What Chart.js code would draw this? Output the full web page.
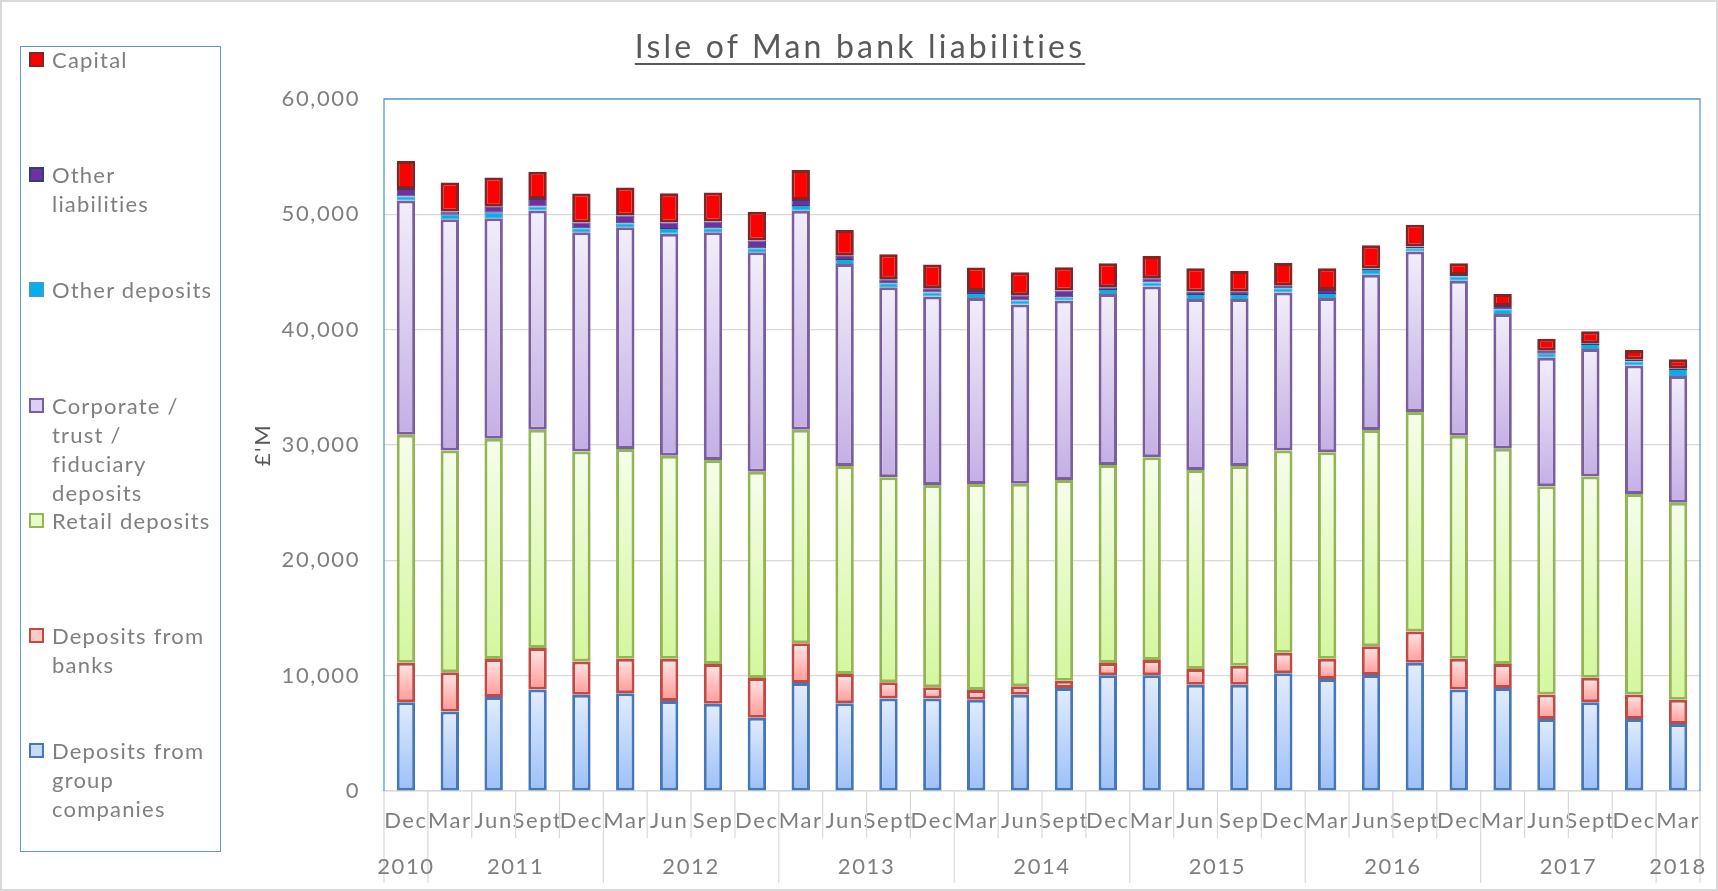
<!DOCTYPE html>
<html>
<head>
<meta charset="utf-8">
<title>Isle of Man bank liabilities</title>
<script src="https://cdn.jsdelivr.net/npm/chart.js@4.4.1/dist/chart.umd.min.js"></script>
<style>
  html, body { margin: 0; padding: 0; background: #fff; }
  #page { position: relative; width: 1718px; height: 891px; overflow: hidden; font-family: Lato, 'Open Sans', sans-serif; background: #fff; }
  #chart { position: absolute; left: 0; top: 0; }
  #frame { position: absolute; left: 0; top: 0; width: 1718px; height: 891px; box-sizing: border-box; border: 2px solid #d9d9d9; pointer-events: none; }
  #title { position: absolute; left: 0; top: 26px; width: 1720px; text-align: center; font-size: 32px; line-height: 40px; letter-spacing: 3.2px; color: #595959; text-decoration: underline; text-underline-offset: 5px; text-decoration-thickness: 1.5px; }
  #legend { position: absolute; left: 20px; top: 46px; width: 201px; height: 806px; box-sizing: border-box; border: 1px solid #5b9bd5; }
  .item { position: absolute; left: 0; width: 195px; }
  .swatch { position: absolute; left: 8px; top: 7px; width: 15px; height: 15px; box-sizing: border-box; border: 2px solid #000; }
  .label { position: absolute; left: 31px; top: 0; font-size: 22px; line-height: 29px; letter-spacing: 1.2px; color: #7f7f7f; white-space: nowrap; }
</style>
</head>
<body>
<div id="page">
  <canvas id="chart" width="1718" height="891"></canvas>
  <div id="title">Isle of Man bank liabilities</div>
  <div id="legend"></div>
  <div id="frame"></div>
</div>
<script>
const quarters = ['Dec', 'Mar', 'Jun', 'Sept', 'Dec', 'Mar', 'Jun', 'Sep', 'Dec', 'Mar', 'Jun', 'Sept', 'Dec', 'Mar', 'Jun',
    'Sept', 'Dec', 'Mar', 'Jun', 'Sep', 'Dec', 'Mar', 'Jun', 'Sept', 'Dec', 'Mar', 'Jun', 'Sept', 'Dec', 'Mar'];
const years = ['2010', '2011', '2012', '2013', '2014', '2015', '2016', '2017', '2018'];
const yearFirst = [0, 1, 5, 9, 13, 17, 21, 25, 29];
const yearLast = [0, 4, 8, 12, 16, 20, 24, 28, 29];

// £'M, stacked bottom to top
const groupDeposits = [7690, 6900, 8150, 8790, 8350, 8470, 7800, 7570, 6350, 9370, 7600, 8030, 8030, 7920, 8350,
    8930, 10030, 10030, 9220, 9220, 10210, 9720, 10060, 11110, 8790, 8930, 6240, 7690, 6240, 5800];
const bankDeposits = [3420, 3400, 3300, 3600, 2880, 2990, 3660, 3450, 3450, 3450, 2550, 1390, 960, 840, 730,
    640, 1070, 1330, 1360, 1650, 1770, 1740, 2490, 2730, 2670, 2090, 2120, 2120, 2120, 2120];
const retailDeposits = [19780, 19230, 19090, 18940, 18210, 18190, 17610, 17690, 17870, 18500, 18040, 17780, 17550, 17860, 17550,
    17400, 17170, 17570, 17260, 17310, 17550, 17920, 18760, 19020, 19340, 18650, 18070, 17460, 17400, 17080];
const corporateDeposits = [20300, 20050, 19110, 19000, 19010, 19230, 19240, 19730, 19040, 19000, 17510, 16470, 16330, 16120, 15550,
    15550, 14820, 14820, 14820, 14470, 13690, 13370, 13450, 13910, 13450, 11690, 11130, 11060, 11130, 10990];
const otherDeposits = [350, 380, 490, 350, 350, 350, 410, 350, 350, 400, 350, 350, 350, 350, 350,
    290, 350, 350, 350, 350, 380, 350, 410, 290, 350, 410, 350, 350, 350, 520];
const otherLiabilities = [660, 290, 520, 640, 490, 660, 580, 580, 670, 520, 350, 350, 380, 260, 460,
    580, 230, 350, 290, 290, 200, 350, 140, 150, 140, 290, 260, 150, 150, 140];
const capital = [2430, 2510, 2540, 2370, 2520, 2430, 2520, 2520, 2490, 2600, 2250, 2170, 2050, 2050, 1990,
    2020, 2080, 1940, 2020, 1790, 1970, 1880, 2020, 1880, 1010, 1040, 1040, 1040, 840, 780];

const yTicks = [0, 10000, 20000, 30000, 40000, 50000, 60000];

const seriesNames = ['Deposits from group companies', 'Deposits from banks', 'Retail deposits',
    'Corporate / trust / fiduciary deposits', 'Other deposits', 'Other liabilities', 'Capital'];
// legend wraps the same way the original does, top entry first
const legendLines = [
    ['Capital'],
    ['Other', 'liabilities'],
    ['Other deposits'],
    ['Corporate /', 'trust /', 'fiduciary', 'deposits'],
    ['Retail deposits'],
    ['Deposits from', 'banks'],
    ['Deposits from', 'group', 'companies']
];

const styles = [
    { top: '#e2ecfd', bottom: '#9cc0f8', border: '#4677b6', swatch: '#c6dafb', width: 3 },
    { top: '#ffe6e6', bottom: '#ff9a96', border: '#be4b48', swatch: '#ffc9c7', width: 3 },
    { top: '#f6fdec', bottom: '#d4f79d', border: '#93b553', swatch: '#e6fbc9', width: 3 },
    { top: '#f2eefa', bottom: '#c4afe5', border: '#7a5e9e', swatch: '#dcd0f0', width: 3 },
    { top: '#00b0f0', bottom: '#00b0f0', border: '#3a9fc4', swatch: '#00b0f0', width: 1 },
    { top: '#7030a0', bottom: '#7030a0', border: '#2f3f78', swatch: '#7030a0', width: 1 },
    { top: '#ff0000', bottom: '#ff0000', border: '#842525', swatch: '#ff0000', width: 3 }
];

const seriesData = [groupDeposits, bankDeposits, retailDeposits, corporateDeposits, otherDeposits, otherLiabilities, capital];

const axisFont = { family: 'Lato, "Open Sans", sans-serif', size: 22 };

function segmentFill(context) {
    const chart = context.chart;
    const style = styles[context.datasetIndex];
    if (style.top === style.bottom) return style.top;
    if (!chart.chartArea || !chart.scales.y) return style.bottom;
    const i = context.dataIndex;
    let base = 0;
    for (let k = 0; k < context.datasetIndex; k++) base += seriesData[k][i];
    const y = chart.scales.y;
    const y0 = y.getPixelForValue(base + seriesData[context.datasetIndex][i]);
    const y1 = y.getPixelForValue(base);
    const g = chart.ctx.createLinearGradient(0, y0, 0, y1);
    g.addColorStop(0, style.top);
    g.addColorStop(1, style.bottom);
    return g;
}

function buildLegend() {
    const box = document.getElementById('legend');
    legendLines.forEach((lines, k) => {
        const style = styles[styles.length - 1 - k];
        const item = document.createElement('div');
        item.className = 'item';
        item.style.top = (k * 115.2 - 2) + 'px';
        const sw = document.createElement('div');
        sw.className = 'swatch';
        sw.style.background = style.swatch;
        sw.style.borderColor = style.border;
        const label = document.createElement('div');
        label.className = 'label';
        label.innerHTML = lines.join('<br>');
        item.appendChild(sw);
        item.appendChild(label);
        box.appendChild(item);
    });
}

// the original's axis text runs a little wider than Lato
const wideText = {
    id: 'wideText',
    beforeDraw(chart) {
        chart.ctx.letterSpacing = '1.6px';
    }
};

// blue plot frame, category separators and the year row
const axisExtras = {
    id: 'axisExtras',
    afterDraw(chart) {
        const { ctx, chartArea: a, scales: { x } } = chart;
        ctx.save();
        ctx.strokeStyle = '#5b9bd5';
        ctx.lineWidth = 1.3;
        ctx.beginPath();
        ctx.moveTo(a.left, a.bottom);
        ctx.lineTo(a.left, a.top);
        ctx.lineTo(a.right, a.top);
        ctx.lineTo(a.right, a.bottom);
        ctx.stroke();

        const half = (x.getPixelForValue(1) - x.getPixelForValue(0)) / 2;
        ctx.strokeStyle = '#d9d9d9';
        ctx.lineWidth = 1.2;
        for (let i = 0; i <= quarters.length; i++) {
            const px = i < quarters.length ? x.getPixelForValue(i) - half : x.getPixelForValue(i - 1) + half;
            const long = i === quarters.length || yearFirst.includes(i);
            ctx.beginPath();
            ctx.moveTo(px, a.bottom);
            ctx.lineTo(px, a.bottom + (long ? 92 : 47));
            ctx.stroke();
        }

        ctx.fillStyle = '#7f7f7f';
        ctx.font = '22px Lato, "Open Sans", sans-serif';
        ctx.letterSpacing = '1.6px';
        ctx.textAlign = 'center';
        ctx.textBaseline = 'middle';
        years.forEach((yr, k) => {
            const cx = (x.getPixelForValue(yearFirst[k]) + x.getPixelForValue(yearLast[k])) / 2;
            ctx.fillText(yr, cx, a.bottom + 76);
        });
        ctx.restore();
    }
};

function renderChart() {
    const ctx = document.getElementById('chart');
    new Chart(ctx, {
        type: 'bar',
        data: {
            labels: quarters,
            datasets: seriesData.map((data, k) => ({
                label: seriesNames[k],
                data: data,
                backgroundColor: segmentFill,
                borderColor: styles[k].border,
                borderWidth: styles[k].width,
                borderSkipped: false,
                barPercentage: 0.42,
                categoryPercentage: 1
            }))
        },
        options: {
            responsive: false,
            animation: false,
            layout: { padding: { left: 224, top: 99, right: 18, bottom: 0 } },
            plugins: {
                legend: { display: false },
                title: { display: false },
                tooltip: { enabled: false }
            },
            scales: {
                x: {
                    stacked: true,
                    offset: true,
                    grid: { display: false },
                    border: { display: true, color: '#d9d9d9', width: 1.5 },
                    ticks: {
                        autoSkip: false,
                        maxRotation: 0,
                        minRotation: 0,
                        padding: 9,
                        color: '#7f7f7f',
                        font: axisFont
                    },
                    afterFit: scale => { scale.height = 100; }
                },
                y: {
                    stacked: true,
                    min: 0,
                    max: 60000,
                    grid: { color: '#d9d9d9', lineWidth: 1.2, drawTicks: false },
                    border: { display: false },
                    afterBuildTicks: scale => { scale.ticks = yTicks.map(v => ({ value: v })); },
                    ticks: {
                        padding: 24,
                        color: '#7f7f7f',
                        font: axisFont,
                        callback: v => v.toLocaleString('en-US')
                    },
                    title: {
                        display: true,
                        text: "£'M",
                        color: '#595959',
                        padding: { top: 26, bottom: 0 },
                        font: axisFont
                    },
                    afterFit: scale => { scale.width = 160; }
                }
            }
        },
        plugins: [wideText, axisExtras]
    });
}

buildLegend();
document.fonts.load('22px Lato').then(renderChart, renderChart);
</script>
</body>
</html>
